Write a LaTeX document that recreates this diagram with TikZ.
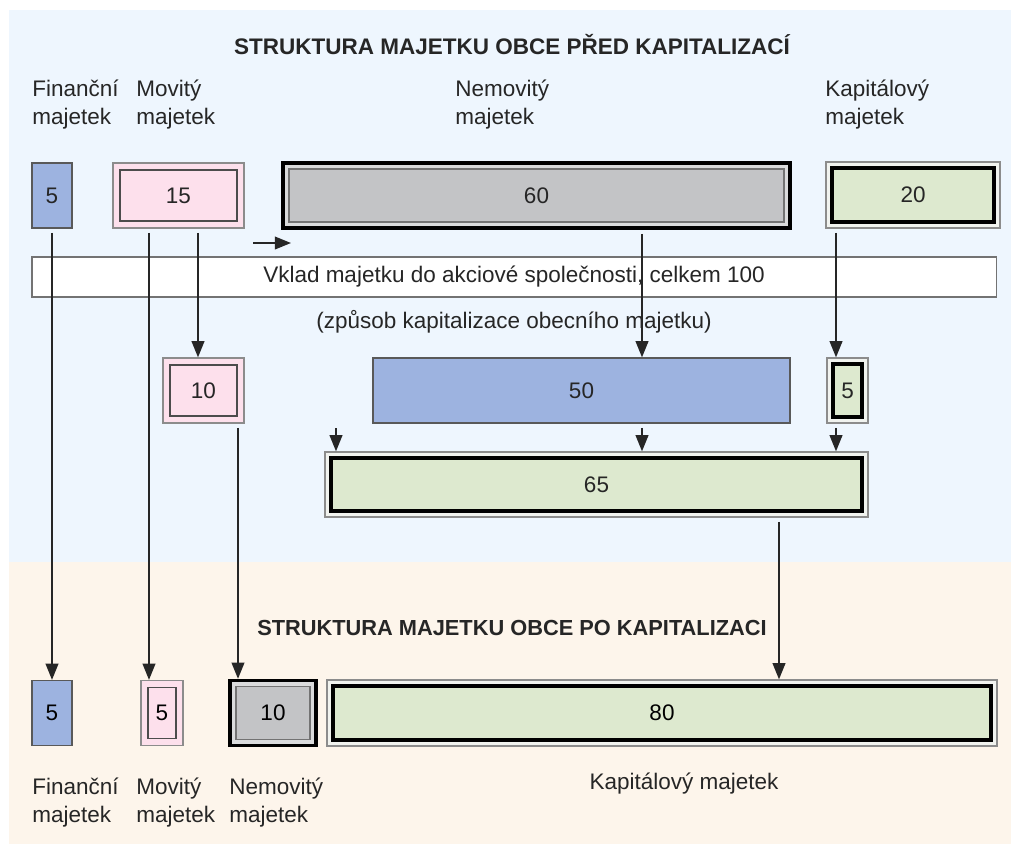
\documentclass[tikz,border=0pt]{standalone}
\usepackage{fontspec}
\setmainfont{Liberation Sans}
\usetikzlibrary{arrows.meta}
\definecolor{bgblue}{HTML}{EEF6FE}
\definecolor{bgpeach}{HTML}{FDF5EB}
\definecolor{finblue}{HTML}{9DB3E0}
\definecolor{movpink}{HTML}{FDE0EC}
\definecolor{nemgray}{HTML}{C3C4C6}
\definecolor{nemlight}{HTML}{DADBDC}
\definecolor{kapgreen}{HTML}{DDE9CF}
\definecolor{kapfaint}{HTML}{F1F3EF}
\begin{document}
\begin{tikzpicture}[
						x=0.025cm, y=-0.025cm,
						every node/.style={font=\fontsize{16}{19.5}\selectfont, text=black!85},
						title/.style={font=\fontsize{16}{19.5}\selectfont\bfseries},
						lbl/.style={anchor=north west, align=left, inner sep=0pt},
						box/.style={rectangle, inner sep=0pt, minimum height=1.625cm},
						finbox/.style={box, fill=finblue, draw=black!65, line width=0.9pt},
						movbox/.style={box, fill=movpink, draw=black!45, line width=0.9pt,
								path picture={\draw[black!70, line width=1pt] ([shift={(7,-7)}]path picture bounding box.south west) rectangle ([shift={(-7,7)}]path picture bounding box.north east);}},
						nembox/.style={box, fill=nemlight, draw=black, line width=2.4pt,
								path picture={\filldraw[fill=nemgray, draw=black!55, line width=1pt] ([shift={(6,-6)}]path picture bounding box.south west) rectangle ([shift={(-6,6)}]path picture bounding box.north east);}},
						kapbox/.style={box, fill=kapfaint, draw=black!45, line width=0.9pt,
								path picture={\filldraw[fill=kapgreen, draw=black, line width=2.4pt] ([shift={(6,-6)}]path picture bounding box.south west) rectangle ([shift={(-6,6)}]path picture bounding box.north east);}},
						vkladbox/.style={rectangle, inner sep=0pt, fill=white, draw=black!55, line width=0.9pt},
						conn/.style={-{Triangle[length=11.5pt,width=9pt]}, line width=1.3pt, black!85, shorten <=3pt}
					]
					\useasboundingbox (0,0) rectangle (1011,844);
					\fill[bgblue] (9,10) rectangle (1011,562);
					\fill[bgpeach] (9,562) rectangle (1011,844);

					\node[title] (title1) at (512,45) {STRUKTURA MAJETKU OBCE PŘED KAPITALIZACÍ};
					\node[lbl] (lfin1) at (32,80) {Finanční\\majetek};
					\node[lbl] (lmov1) at (136,80) {Movitý\\majetek};
					\node[lbl] (lnem1) at (455,80) {Nemovitý\\majetek};
					\node[lbl] (lkap1) at (825,80) {Kapitálový\\majetek};

					\node[finbox, minimum width=1cm] (fin1) at (52,195.5) {5};
					\node[movbox, minimum width=3.275cm] (mov1) at (178.5,195.5) {15};
					\node[nembox, minimum width=12.675cm] (nem1) at (536.5,195.5) {60};
					\node[kapbox, minimum width=4.35cm, minimum height=1.65cm] (kap1) at (913,195) {20};

					\node[vkladbox, minimum width=24.1cm, minimum height=1cm] (vklad) at (514,277) {Vklad majetku do akciové společnosti, celkem 100};
					\node (zpusob) at (514,322) {(způsob kapitalizace obecního majetku)};

					\node[movbox, minimum width=2.025cm] (mov2) at (203.5,390.5) {10};
					\node[finbox, minimum width=10.425cm] (nem2) at (581.5,390.5) {50};
					\node[kapbox, minimum width=1.025cm] (kap2) at (847.5,390.5) {5};
					\node[kapbox, minimum width=13.575cm] (kap3) at (596.5,484.5) {65};

					\node[title, font=\fontsize{15.5}{19}\selectfont\bfseries] (title2) at (512,628) {STRUKTURA MAJETKU OBCE PO KAPITALIZACI};
					\node[finbox, minimum width=1cm, text=black] (fin4) at (52,713) {5};
					\node[movbox, minimum width=1.05cm, text=black] (mov4) at (162,713) {5};
					\node[nembox, minimum width=2.15cm, text=black] (nem4) at (273,713) {10};
					\node[kapbox, minimum width=16.75cm, minimum height=1.65cm, text=black] (kap4) at (662,713) {80};
					\node[lbl] (lfin4) at (32,778) {Finanční\\majetek};
					\node[lbl] (lmov4) at (136,778) {Movitý\\majetek};
					\node[lbl] (lnem4) at (229,778) {Nemovitý\\majetek};
					\node (lkap4) at (684,784) {Kapitálový majetek};

					\coordinate (xmov) at (149,0);
					\coordinate (xmov10) at (198,0);
					\coordinate (xnem) at (642,0);
					\coordinate (xkap) at (836,0);
					\coordinate (xnem10) at (238,0);
					\coordinate (xkap80) at (779,0);
					\coordinate (xin) at (336,424);
					\coordinate (arrS) at (249,243);
					\coordinate (arrE) at (291,243);

					\draw[conn] (fin1) -- (fin4);
					\draw[conn] (mov1.south -| xmov) -- (mov4.north -| xmov);
					\draw[conn] (mov1.south -| xmov10) -- (mov2.north -| xmov10);
					\draw[conn] (nem1.south -| xnem) -- (nem2.north -| xnem);
					\draw[conn] (kap1.south -| xkap) -- (kap2.north -| xkap);
					\draw[conn] (nem2.south -| xnem) -- (kap3.north -| xnem);
					\draw[conn] (kap2.south -| xkap) -- (kap3.north -| xkap);
					\draw[conn] (xin) -- (kap3.north -| xin);
					\draw[conn] (mov2.south -| xnem10) -- (nem4.north -| xnem10);
					\draw[conn] (kap3.south -| xkap80) -- (kap4.north -| xkap80);
					\draw[conn] (arrS) -- (arrE);
				\end{tikzpicture}
\end{document}
